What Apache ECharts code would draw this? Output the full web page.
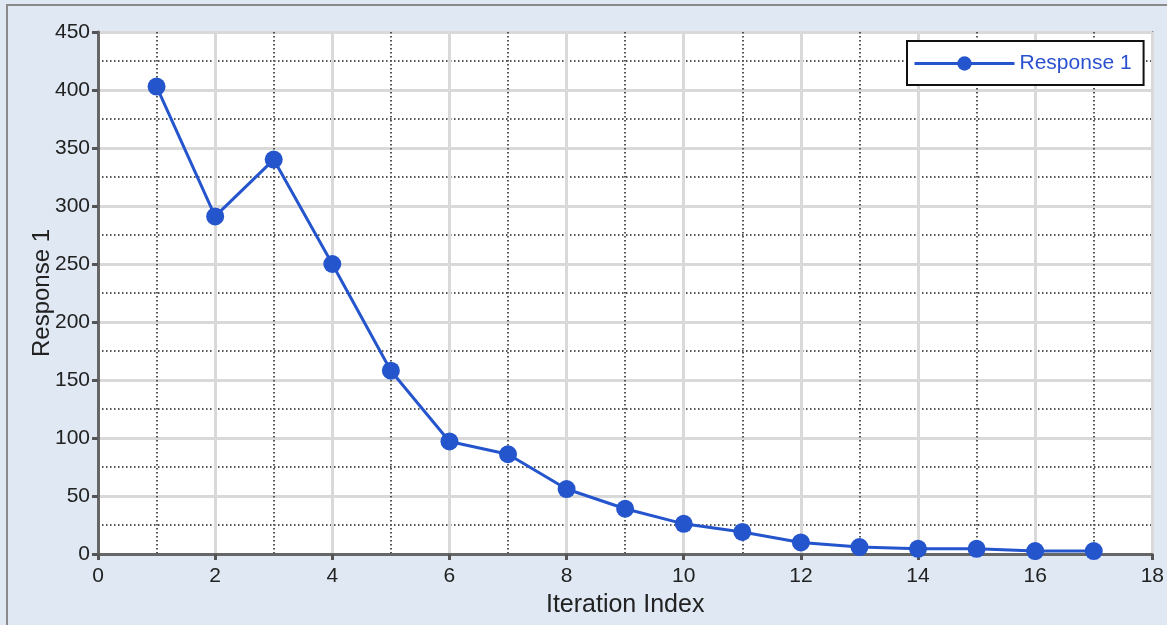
<!DOCTYPE html>
<html>
<head>
<meta charset="utf-8">
<script src="https://cdn.jsdelivr.net/npm/echarts@6/dist/echarts.min.js"></script>
<style>
html,body{margin:0;padding:0;background:#dfe8f3;}
#main{width:1167px;height:625px;}
</style>
</head>
<body>
<div id="main"></div>
<script>
var iterations = [1, 2, 3, 4, 5, 6, 7, 8, 9, 10, 11, 12, 13, 14, 15, 16, 17];
var response1 = [403, 291, 340, 250, 158, 97, 86, 56, 39, 26, 19, 10, 6, 4.5, 4.5, 2.5, 2.5];
var seriesName = 'Response 1';

var points = [];
for (var i = 0; i < iterations.length; i++) {
	points.push([iterations[i], response1[i]]);
}

var myChar = echarts.init(document.getElementById('main'));
var font = 'Liberation Sans';
var dotted = {color: '#555', width: 2, type: [1.5, 2.5]};
var myOption = {
	backgroundColor: '#dfe8f3',
	animation: false,
	graphic: [{
		type: 'rect',
		shape: {x: 7, y: 5, width: 1170, height: 630},
		style: {fill: 'none', stroke: '#8a8a8a', lineWidth: 2},
		silent: true
	}],
	grid: {
		left: 98,
		right: 12,
		top: 32,
		bottom: 71,
		show: true,
		backgroundColor: '#ffffff',
		borderColor: '#6e6e6e',
		borderWidth: 2
	},
	legend: {
		left: 907,
		top: 41,
		backgroundColor: '#ffffff',
		borderColor: '#111',
		borderWidth: 2,
		borderRadius: 0,
		padding: [12, 12, 11, 6],
		itemWidth: 100,
		itemHeight: 18,
		itemGap: 6,
		lineStyle: {width: 3},
		textStyle: {color: '#2a50d0', fontSize: 21, fontFamily: font},
		data: [seriesName]
	},
	xAxis: {
		type: 'value',
		min: 0,
		max: 18,
		interval: 2,
		name: 'Iteration Index',
		nameLocation: 'middle',
		nameGap: 39,
		nameMoveOverlap: false,
		nameTextStyle: {color: '#222', fontSize: 25, fontFamily: font},
		axisLine: {show: true, lineStyle: {color: '#666', width: 3}},
		axisTick: {show: true, length: 6, lineStyle: {color: '#555', width: 3}},
		axisLabel: {color: '#222', fontSize: 21, margin: 12, fontFamily: font},
		splitLine: {show: true, lineStyle: {color: '#d9d9d9', width: 3}},
		minorTick: {show: false, splitNumber: 2},
		minorSplitLine: {show: true, lineStyle: dotted}
	},
	yAxis: {
		type: 'value',
		min: 0,
		max: 450,
		interval: 50,
		name: 'Response 1',
		nameLocation: 'middle',
		nameGap: 44,
		nameMoveOverlap: false,
		nameTextStyle: {color: '#222', fontSize: 24, fontFamily: font},
		axisLine: {show: true, lineStyle: {color: '#666', width: 3}},
		axisTick: {show: true, length: 6, lineStyle: {color: '#555', width: 3}},
		axisLabel: {color: '#222', fontSize: 21, margin: 8, fontFamily: font},
		splitLine: {show: true, lineStyle: {color: '#d9d9d9', width: 3}},
		minorTick: {show: false, splitNumber: 2},
		minorSplitLine: {show: true, lineStyle: dotted}
	},
	series: [{
		name: seriesName,
		type: 'line',
		data: points,
		symbol: 'circle',
		symbolSize: 18,
		color: '#2455cc',
		lineStyle: {width: 3, color: '#2455cc'},
		itemStyle: {color: '#2455cc'},
		z: 5
	}]
};
myChar.setOption(myOption);
</script>
</body>
</html>
